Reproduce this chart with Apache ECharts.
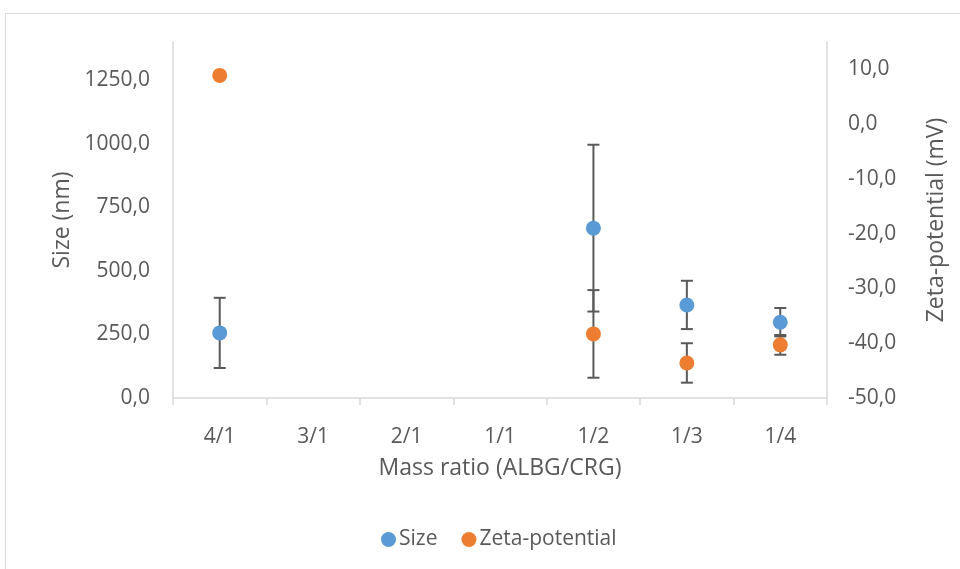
<!DOCTYPE html>
<html>
<head>
<meta charset="utf-8">
<script src="https://cdn.jsdelivr.net/npm/echarts@6/dist/echarts.min.js"></script>
<style>
html, body { margin: 0; padding: 0; background: #ffffff; }
#chart_div { width: 960px; height: 569px; }
</style>
</head>
<body>
<div id="chart_div"></div>
<script>
var categories = ['4/1', '3/1', '2/1', '1/1', '1/2', '1/3', '1/4'];
var sizeValues = [256, null, null, null, 668, 366, 298];
var sizeErrors = [138, null, null, null, 328, 95, 56];
var zetaValues = [8.9, null, null, null, -38.3, -43.6, -40.3];
var zetaErrors = [0, null, null, null, 8.0, 3.6, 1.8];

var textColor = '#595959';
var lineColor = '#d9d9d9';
var fontName = 'Open Sans';

function f_points(vals) {
	var out = [];
	for (var i = 0; i < vals.length; i++) {
		if (vals[i] != null) out.push([i, vals[i]]);
	}
	return out;
}

function f_errors(vals, errs) {
	var out = [];
	for (var i = 0; i < vals.length; i++) {
		if (vals[i] != null && errs[i]) out.push([i, vals[i] - errs[i], vals[i] + errs[i]]);
	}
	return out;
}

function f_fmt(v) {
	return v.toFixed(1).replace('.', ',');
}

function errRender(params, api) {
	var x = api.value(0);
	var lo = api.coord([x, api.value(1)]);
	var hi = api.coord([x, api.value(2)]);
	var w = 6;
	var st = { stroke: '#595959', lineWidth: 2 };
	return {
		type: 'group',
		children: [
			{ type: 'line', shape: { x1: lo[0], y1: lo[1], x2: hi[0], y2: hi[1] }, style: st },
			{ type: 'line', shape: { x1: lo[0] - w, y1: lo[1], x2: lo[0] + w, y2: lo[1] }, style: st },
			{ type: 'line', shape: { x1: hi[0] - w, y1: hi[1], x2: hi[0] + w, y2: hi[1] }, style: st }
		]
	};
}

var chart = echarts.init(document.getElementById('chart_div'));

chart.setOption({
	backgroundColor: '#ffffff',
	animation: false,
	textStyle: { fontFamily: fontName, color: textColor },
	graphic: [
		{ type: 'polyline', shape: { points: [[5.5, 600], [5.5, 13.5], [980, 13.5]] },
		  style: { stroke: lineColor, lineWidth: 1, fill: null } }
	],
	grid: { left: 173, right: 133, top: 42, bottom: 171 },
	legend: {
		data: ['Size', 'Zeta-potential'],
		bottom: 14,
		left: 376,
		icon: 'circle',
		itemWidth: 15,
		itemHeight: 15,
		itemGap: 24,
		itemStyle: { borderWidth: 0 },
		textStyle: { fontFamily: fontName, fontSize: 21, color: textColor, padding: [0, 0, 0, -2] }
	},
	xAxis: {
		type: 'category',
		data: categories,
		boundaryGap: true,
		name: 'Mass ratio (ALBG/CRG)',
		nameLocation: 'middle',
		nameGap: 59,
		nameTextStyle: { fontFamily: fontName, fontSize: 23, color: textColor },
		axisLine: { lineStyle: { color: lineColor, width: 1.5 } },
		axisTick: { show: true, length: 7, lineStyle: { color: lineColor, width: 1.5 } },
		axisLabel: { fontSize: 21, color: textColor, margin: 29 },
		splitLine: { show: false }
	},
	yAxis: [
		{
			type: 'value',
			min: 0,
			max: 1400,
			interval: 250,
			name: 'Size (nm)',
			nameLocation: 'middle',
			nameGap: 98,
			nameTextStyle: { fontFamily: fontName, fontSize: 23, color: textColor },
			axisLine: { show: true, lineStyle: { color: lineColor, width: 1.5 } },
			axisTick: { show: false },
			axisLabel: { fontSize: 21, color: textColor, margin: 23, showMaxLabel: false, formatter: f_fmt },
			splitLine: { show: false }
		},
		{
			type: 'value',
			min: -50,
			max: 15,
			interval: 10,
			name: 'Zeta-potential (mV)',
			nameLocation: 'middle',
			nameGap: 98,
			nameTextStyle: { fontFamily: fontName, fontSize: 23, color: textColor },
			axisLine: { show: true, lineStyle: { color: lineColor, width: 1.5 } },
			axisTick: { show: false },
			axisLabel: { fontSize: 21, color: textColor, margin: 21, showMaxLabel: false, formatter: f_fmt },
			splitLine: { show: false }
		}
	],
	series: [
		{
			type: 'custom',
			yAxisIndex: 0,
			renderItem: errRender,
			data: f_errors(sizeValues, sizeErrors),
			z: 1
		},
		{
			type: 'custom',
			yAxisIndex: 1,
			renderItem: errRender,
			data: f_errors(zetaValues, zetaErrors),
			z: 1
		},
		{
			name: 'Size',
			type: 'scatter',
			yAxisIndex: 0,
			symbol: 'circle',
			symbolSize: 15,
			itemStyle: { color: '#5b9bd5', opacity: 1 },
			data: f_points(sizeValues),
			z: 3
		},
		{
			name: 'Zeta-potential',
			type: 'scatter',
			yAxisIndex: 1,
			symbol: 'circle',
			symbolSize: 15,
			itemStyle: { color: '#ed7d31', opacity: 1 },
			data: f_points(zetaValues),
			z: 3
		}
	]
});
</script>
</body>
</html>
